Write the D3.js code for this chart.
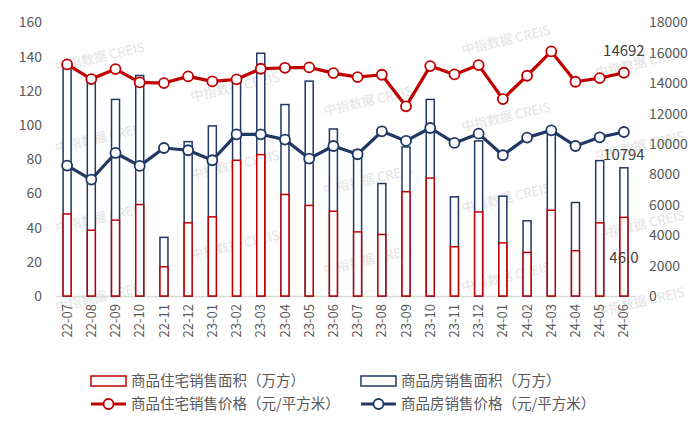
<!DOCTYPE html>
<html>
<head>
<meta charset="utf-8">
<script src="https://cdn.jsdelivr.net/npm/d3@7"></script>
<style>
  body { margin: 0; background: #fff; }
  text { font-family: "Noto Sans CJK SC", "Noto Sans", sans-serif; }
</style>
</head>
<body>
<div id="chart"></div>
<script>
var months = ["22-07", "22-08", "22-09", "22-10", "22-11", "22-12", "23-01", "23-02", "23-03", "23-04", "23-05", "23-06",
  "23-07", "23-08", "23-09", "23-10", "23-11", "23-12", "24-01", "24-02", "24-03", "24-04", "24-05", "24-06"];
// 面积（万方）
var resiArea = [48, 38.5, 44.4, 53.5, 17.1, 42.8, 46.3, 79.4, 82.7, 59.4, 53, 49.6,
  37.5, 36, 61, 69, 28.8, 49.2, 31.1, 25.5, 50.2, 26.5, 42.8, 46.0];
var totalArea = [135, 126, 115, 129, 34.3, 90.3, 99.5, 127, 142, 112, 125.7, 97.7,
  85.3, 65.8, 87.2, 115, 58, 90.7, 58.4, 44, 97, 54.7, 79.2, 75];
// 价格（元/平方米）
var resiPrice = [15240, 14276, 14933, 14058, 14014, 14453, 14124, 14260, 14955, 15020, 15043, 14671,
  14408, 14562, 12482, 15131, 14584, 15197, 12963, 14496, 16095, 14102, 14342, 14692];
var totalPrice = [8584, 7665, 9413, 8562, 9742, 9591, 8934, 10642, 10642, 10292, 9044, 9873,
  9328, 10840, 10205, 11057, 10074, 10686, 9263, 10424, 10905, 9873, 10446, 10794];
var leftTicks = [0, 20, 40, 60, 80, 100, 120, 140, 160];
var rightTicks = [0, 2000, 4000, 6000, 8000, 10000, 12000, 14000, 16000, 18000];
var legendNames = ["商品住宅销售面积（万方）", "商品房销售面积（万方）", "商品住宅销售价格（元/平方米）", "商品房销售价格（元/平方米）"];

var W = 700, H = 427;
var margin = { top: 22.5, right: 64, bottom: 131, left: 55 };
var red = "#c00000", navy = "#1f3864", grey = "#595959";

var svg = d3.select("#chart").append("svg").attr("width", W).attr("height", H);

// watermark
var marks = [[100, 57], [100, 138], [100, 218], [100, 297], [235, 87], [235, 165], [235, 245],
  [368, 101], [368, 180], [368, 260], [506, 40], [506, 117], [506, 198], [506, 277],
  [640, 63], [640, 146], [640, 225], [640, 302]];
svg.append("g").selectAll("text").data(marks).enter().append("text")
  .attr("transform", function (d) { return "translate(" + d[0] + "," + d[1] + ") rotate(-13)"; })
  .attr("text-anchor", "middle").attr("dy", "0.35em")
  .attr("font-size", 13).attr("fill", "#e3e3e3")
  .text("中指数据 CREIS");

var x = d3.scaleBand().domain(months).range([margin.left, W - margin.right]);
var yL = d3.scaleLinear().domain([0, 160]).range([H - margin.bottom, margin.top]);
var yR = d3.scaleLinear().domain([0, 18000]).range([H - margin.bottom, margin.top]);
var bw = 8;
var cx = function (d, i) { return x(months[i]) + x.bandwidth() / 2; };

// axes
var axL = svg.append("g").attr("transform", "translate(" + (margin.left - 10) + ",0)")
  .call(d3.axisLeft(yL).tickValues(leftTicks).tickSize(0));
var axR = svg.append("g").attr("transform", "translate(" + (W - margin.right + 10) + ",0)")
  .call(d3.axisRight(yR).tickValues(rightTicks).tickFormat(d3.format("d")).tickSize(0));
[axL, axR].forEach(function (a) {
  a.select(".domain").remove();
  a.selectAll("text").attr("font-size", 14).attr("fill", grey)
    .attr("font-family", "'Liberation Sans', Arial, sans-serif");
});

var axB = svg.append("g").attr("transform", "translate(0," + (H - margin.bottom) + ")")
  .call(d3.axisBottom(x).tickSize(0));
axB.select(".domain").attr("stroke", "#d9d9d9").attr("stroke-width", 1.5);
axB.selectAll("text")
  .attr("font-size", 13).attr("fill", grey)
  .attr("font-family", "'Liberation Sans', Arial, sans-serif")
  .attr("transform", "rotate(-90)")
  .attr("text-anchor", "end")
  .attr("x", -8).attr("y", 0).attr("dy", "0.35em");

// bars
svg.append("g").selectAll("rect").data(totalArea).enter().append("rect")
  .attr("x", function (d, i) { return cx(d, i) - bw / 2; })
  .attr("y", function (d) { return yL(d); })
  .attr("width", bw).attr("height", function (d) { return yL(0) - yL(d); })
  .attr("fill", "#fff").attr("stroke", navy).attr("stroke-width", 1.5);
svg.append("g").selectAll("rect").data(resiArea).enter().append("rect")
  .attr("x", function (d, i) { return cx(d, i) - bw / 2; })
  .attr("y", function (d) { return yL(d); })
  .attr("width", bw).attr("height", function (d) { return yL(0) - yL(d); })
  .attr("fill", "#fff").attr("stroke", red).attr("stroke-width", 1.5);

// lines
function drawLine(data, color) {
  var line = d3.line().x(function (d, i) { return cx(d, i); }).y(function (d) { return yR(d); });
  svg.append("path").datum(data).attr("d", line)
    .attr("fill", "none").attr("stroke", color).attr("stroke-width", 3.2).attr("stroke-linejoin", "round");
  svg.append("g").selectAll("circle").data(data).enter().append("circle")
    .attr("cx", function (d, i) { return cx(d, i); })
    .attr("cy", function (d) { return yR(d); })
    .attr("r", 5).attr("fill", "#fff").attr("stroke", color).attr("stroke-width", 1.8);
}
drawLine(totalPrice, navy);
drawLine(resiPrice, red);

// data labels
var last = months.length - 1, lx = cx(0, last);
var lab = svg.append("g").attr("font-family", "'Liberation Sans', Arial, sans-serif")
  .attr("font-size", 15).attr("fill", "#404040").attr("text-anchor", "middle");
lab.append("text").attr("x", lx).attr("y", yR(resiPrice[last]) - 17).text(resiPrice[last]);
lab.append("text").attr("x", lx).attr("y", yR(totalPrice[last]) + 28).text(totalPrice[last]);
lab.append("text").attr("x", lx).attr("y", yL(resiArea[last]) + 46).text(resiArea[last].toFixed(1));

// legend
var legPos = [[91, 381], [361, 381], [91, 404], [361, 404]];
var leg = svg.append("g").selectAll("g").data(legendNames).enter().append("g")
  .attr("transform", function (d, i) { return "translate(" + legPos[i][0] + "," + legPos[i][1] + ")"; });
leg.each(function (d, i) {
  var g = d3.select(this), c = (i % 2 === 0) ? red : navy;
  if (i < 2) {
    g.append("rect").attr("x", 0).attr("y", -5).attr("width", 35).attr("height", 10)
      .attr("fill", "#fff").attr("stroke", c).attr("stroke-width", 1.5);
  } else {
    g.append("line").attr("x1", 0).attr("x2", 35).attr("stroke", c).attr("stroke-width", 3.2);
    g.append("circle").attr("cx", 17.5).attr("r", 5).attr("fill", "#fff").attr("stroke", c).attr("stroke-width", 1.8);
  }
  g.append("text").attr("x", 40).attr("dy", "0.35em").attr("font-size", 14.5)
    .attr("fill", grey).text(d);
});
</script>
</body>
</html>
